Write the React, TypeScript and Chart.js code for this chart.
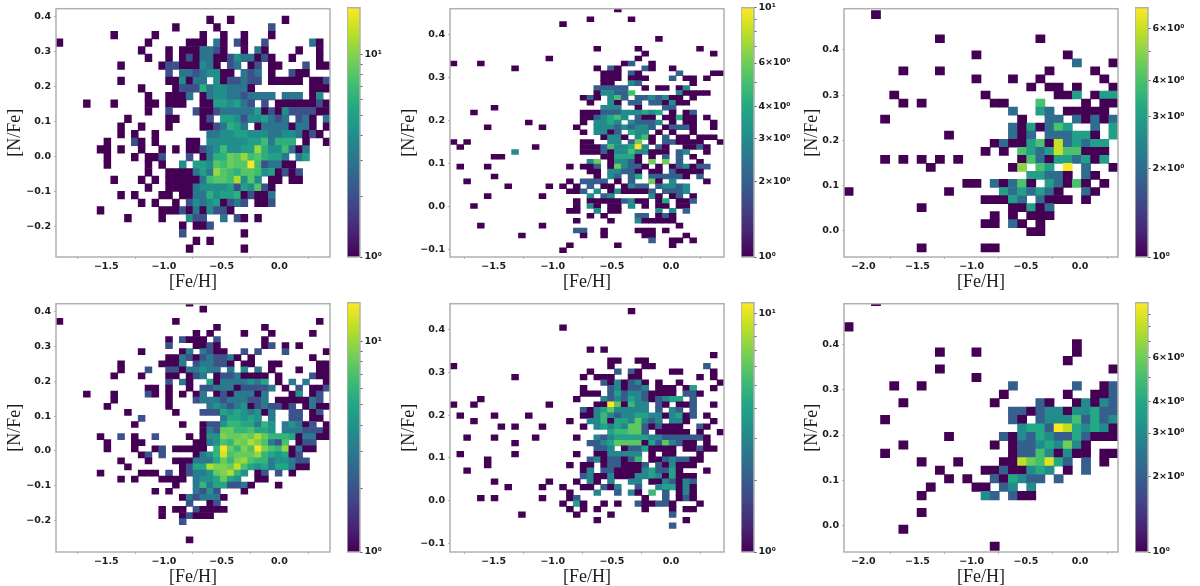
import React, { useEffect, useRef } from "react";
import { Chart, registerables } from "chart.js";

Chart.register(...registerables);

// Rows of each histogram: [row, "column[-column][:count] ..."], count defaults to 1.
type Rows = [number, string][];

const panel1Rows: Rows = [
  [0, "22 25 33"], [1, "17 23 31:2"], [2, "8 14 21 24 27 31"],
  [3, "0 13 19-21 23:3 24 26:2 27 30:2 37:3 38"],
  [4, "12 16 18-20 21-22:3 23:2 24 27 29:3 30 35 38"],
  [5, "13 16 18 19:2 20 21-22:3 23 24 25:2 26:4 27-28:3 29 30:2 31 34 38"],
  [6, "9 15 16-17:2 18-20 21:4 22:3 23 25:2 26:3 28 29:2 31-32 36:2 38-39"],
  [7, "16:2 18-19:3 20:2 21:3 22-23:4 24 25 27:3 28:2 29:3 31 34:2 35-36"],
  [8, "9 16-17 18:4 19 20-21:3 23:4 24 25-26:2 27:3 28-29:2 31-35 37-38 39:2"],
  [9, "12 17 18-20:2 21:6 22:3 23-24:4 25-27:3 28 37-39"],
  [10, "13 16-18 19:3 21 22:3 23-24:4 25-26:3 27:2 28:3 29-31:3 33-35:3 37 38:4"],
  [11, "4 8 13-14 16-18 21-22 23-24:5 25:4 26:5 27:3 28:2 30:2 32-36 37 38:2 39"],
  [12, "13 16:2 20:2 21-22 23:2 24-26:3 27-28:3 29:5 30 31:2 32 33:4 34-37:2 38-39"],
  [13, "10 16-17 21 22:2 24-25:5 26:4 27:2 28-29:4 30:5 31:3 32:2 33:3 35:2 36:3 37 39:3"],
  [14, "9 12 16 21-22 23:2 24:3 25:6 26:5 27:3 29 30:3 31-33:3 34 35-36:3 37 39"],
  [15, "9 11 14 22-23:3 24-25:4 26-27:5 28-30:4 31-32:3 33-34:4 35:3 36 37:2 38"],
  [16, "7 11:2 12 14 19-20 22-27:4 28-29:5 30:7 31:3 32-34:6 36 39"],
  [17, "6 7 9 12 15 17 19-20 21:2 22:3 23:4 24:7 25-26:4 27-28:5 29:11 30:6 31-32:4 33:7 34:3 35 36:3"],
  [18, "7 11 13-14 15:2 19:2 21 22:3 23-24:6 25:9 26:8 27:11 28:7 29:8 30:6 31-32:5 33:3 35:3 36:5"],
  [19, "7 13 15 18:4 20-21:5 22:4 23:8 24:7 25:9 26-27:8 28:17 29:7 30:2 31-32:3 33-34"],
  [20, "13 16-19 20:3 21:5 22:3 23:11 24:8 25:7 26:6 27-28:8 29:7 30:4 31:5 32 33:2 34 35:2"],
  [21, "8 12 14 16-20 21:3 22:7 23-24:8 25:7 26:12 27:4 28:8 29:4 31-32 34-35"],
  [22, "13 16-19 20:3 21-24:4 25:5 26:2 27:5 28:4 29:8 30:2 31"],
  [23, "9 11 15-16 18-19 20-21:3 22:6 23:4 24-25:5 26:6 27 28:2 29-30 31:3"],
  [24, "12 14 17 19:2 20:4 21:3 22:4 23:5 24 25:2 26:3 27:2 29-30 31:2"],
  [25, "6 15-17 18:2 19 20:3 21 22:4 23-24:2 25"],
  [26, "10 15 19:4 20-21:2 24:3 26:2 27 29"],
  [27, "18 20-21 22:2"], [28, "18:2 27"], [29, "20 22"], [30, "19 27"],
];

const panel2Rows: Rows = [
  [0, "24"], [2, "20 26"], [3, "16"], [6, "30"], [8, "21 27 36"], [9, "28 38"], [10, "14 27"],
  [11, "0 4 25 26:2 29"],
  [12, "9 21 23:2 24 28:2 29 32"],
  [13, "22-24 26:2 27 33:2 38-39"],
  [14, "22-24 26-28 32:2 34-35 37"],
  [15, "22-23 26:3 27:2 35"],
  [16, "21-22:2 23-25:2 28 30-31 33 34:3"],
  [17, "21 22-23:3 24-25:2 26:5 33:3 34-37"],
  [18, "19 20:2 21 23:3 24:5 25:2 27-28:2 29:3 30:2 31:3 32-33 35"],
  [19, "20 23:3 24 26-27:2 29-30:2 31 32:3 33-34"],
  [20, "6 22-24:3 27 31-32:2"],
  [21, "3 19-21 22-24:2 25-27:3 28:4 29:3 30:4 32 34 35:2"],
  [22, "19-20 21:2 22:3 23:4 24:5 25:3 27:2 28 29 31-32 33:4 34-35 37"],
  [23, "11 19 21-22:3 23:4 24:3 26:3 27-29:2 30:3 32 34-35 38"],
  [24, "5 13 18 21-23:3 24:2 25:3 26:2 27-28:3 29:2 31 32-34:2 35 38"],
  [25, "19 21-22:3 23 24:2 26:4 27-28:3 30 32 35"],
  [26, "22 23-24:3 25 27:3 28:5 29 31:2 33-34 36-37 38"],
  [27, "0 2 19-20 23-24:3 26:2 27:6 29 31-32:2 33-36 39"],
  [28, "1 12 19-21 22:2 23:5 24-25:3 26:4 27:10 28:3 30:2 31 34-35 36:2 37"],
  [29, "9:3 19-21 22:2 23 24-25:3 26:5 27-28:3 29-31 33:2 34:3 37"],
  [30, "6-7 22-23 24-26:4 27 29 31:2 33:2 35"],
  [31, "20:3 21:6 23 24-25:3 26:2 27 29:6 31:6 33:2 36"],
  [32, "1 5 17 19-20 21:2 23 24:6 25:3 26-27:2 28 30 32 33:2 34:3 35 36-37:2"],
  [33, "20-21 23-24:3 25-26:2 27 29-30 32:2 33-36"],
  [34, "6 21 23:3 24:2 26:2 27:4 29-33:2 34 36:2"],
  [35, "2 17 19-22:2 24 26:2 29:6 30 32:3 37"],
  [36, "8 14 16 18 20:2 22-23 25 26:3 27-28:2 30:2 31-32:3 33:2 34:3"],
  [37, "17-18 19:2 21:3 23 24:3 25-28 29:2 31-33:2 34:3"],
  [38, "5 13 20:3 22:2 23:3 29:3 30 32 33:2 35"],
  [39, "18 20-24 25:2 26:3 27-28 30 31:4 33-34 35:2"],
  [40, "3 18 20:3 21 23-24 26:3 28 30-31 33-34"],
  [41, "17-18 21:3 23-24 30:3 32:3 34:2"],
  [42, "20 22 27-28:2 30 31:2 32"],
  [43, "18 23 27:3 28-32"],
  [44, "4 13 33"],
  [45, "18-19:2 22 27-29 31"],
  [46, "10 19 22 28-29 34"],
  [47, "29:2 32-33 35"],
  [48, "17 24 32"], [49, "16"],
];

const panel3Rows: Rows = [
  [0, "3"], [3, "10 21"], [5, "14 24"], [6, "25:2 29"], [7, "6 10 22 27"], [8, "14 18 21 28"],
  [9, "20 22-23 25 29"],
  [10, "5 15 23-24 25:3 27 28-29:3"],
  [11, "6 8 16-17 21:4 26 28-29"],
  [12, "18:2 21:3 22:2 24-28"],
  [13, "4 19 22-23:2 25:2 26 27:2 28 29:2"],
  [14, "18:2 19 20:3 21 22:2 23:4 24:3 27:2 29:3"],
  [15, "11 18:2 19 20:2 22-24:2 25-26:3 27 29:3"],
  [16, "16 17:2 18-19 20:3 21:4 22 23:6 24:2 25:3 26:2 27-28:3"],
  [17, "15 17 19:4 20:3 21:2 22:3 23:6 24:4 25:4 26-28"],
  [18, "4 6 8 10 12 19 20:4 21:2 22 23-24:3 25:2 26:3 27 28:3"],
  [19, "9 18 19:5 21:4 22:3 24:7 26:2 29"],
  [20, "20-21:3 22-23:2 24 26:2 27"],
  [21, "13-14 16:2 17 18:2 19:4 20 22:3 23:2 24 25:4 26 28"],
  [22, "0 11 17:3 18:2 19:3 20:2 21:3 22:2 23 26:2 27"],
  [23, "15-17 18:3 19:2 21:2 22-24 26"],
  [24, "8 18-19 20:3 21 22:2"],
  [25, "16 18 20-22"],
  [26, "15-16 18:2 19 21"],
  [27, "20-21"],
  [29, "8 15-16"],
];

const panel4Rows: Rows = [
  [0, "19"], [1, "21"], [3, "0 17 38"], [4, "23 30"], [5, "20 22 27 31 37"],
  [6, "16 18:2 19-21 23:2 30"],
  [7, "16:2 20-21 22:2 23 30 31:2 33 35"],
  [8, "12 18 19:3 21:3 22:2 23-24 27:2 29:2 33:2 39"],
  [9, "16-17 18:3 19:2 20 21:2 22:3 23-24:2 25:3 26 28 37"],
  [10, "9 15-17 18:3 20:2 21-22:3 23-24:2 25 27-28 31-32 38-39"],
  [11, "9 13:2 16-17:2 18 19-20:3 21:4 22-23:3 25:3 27:4 29:3 31 35 38-39"],
  [12, "8 12 16-17 19 20:2 21:3 23 24-25:2 26:3 27-30 32 37:2 38-39"],
  [13, "16:2 18:3 19 22:5 23 24-27:3 28:4 29:3 30:5 32 34:3 36:3 39"],
  [14, "13-14 16 19 21-22:2 23-25:3 26 27-28:2 29-30:2 31:3 33 35:2 37-38 39:2"],
  [15, "4 8 13:2 14 16 18 20 21:3 23 24:2 25 26-28:3 29 30:3 34 35:4 37 38:2"],
  [16, "8 16 20:2 21-23:3 24:2 25-27:3 28-29:2 30:3 32-36 37:3 38:2"],
  [17, "7 16 22:3 23:4 24:3 25:2 26:3 27:4 28 29:2 30:3 31-32:2 33 34:2 36 37:3 38-39"],
  [18, "10 17 21-23:2 24:5 25:4 26:5 27:4 28:3 29:4 30 31:3 34-35:2 37 38:2"],
  [19, "12:2 24:3 25-26:5 27:4 28:5 29:4 31:3 34-35:2 37-38"],
  [20, "11 18 21 22-23:2 24:4 25-26:6 27-28:5 29:3 30:6 31:4 33:3 34:4 35:3 36 37:2 39"],
  [21, "21 22:3 23:2 24-25:8 26-27:6 28:7 29-30:5 31:4 33-35:3 36-38:2 39"],
  [22, "6 9:2 11 14:2 19 21 22-23:4 24:9 25-26:8 27:9 28:8 29:11 30:8 31-33:6 34:5 35 36-37:3 38-39"],
  [23, "7 11-12 20-21 22:3 23:4 24:7 25:6 26:9 27:8 28:11 29:9 30:7 31:3 32:2 33:7 35 36-37:2"],
  [24, "7 11 14 15:2 17-21 23:6 24:15 25:8 26:6 27:9 28:7 29:15 30:9 31:7 32:6 33:10 34 35:3 36-37"],
  [25, "12 13:2 15:2 20 21:3 22:4 23:6 24:13 25:7 26-28:8 29:10 30:6 31:5 32:4 33:5 34 35:2"],
  [26, "9 13 17-19 20-22:3 23:5 24:8 25:6 26:9 27:10 28:7 29-30:6 31:3 32-33:4 34:3 35-36:2"],
  [27, "10 18 19:2 20-21:5 22:11 23-24:9 25:8 26:12 27:7 28:5 29:4 30:5 31:3 32-33:5 34:3 35-36"],
  [28, "6 12-14 16:2 18 19:2 20-21:3 22:4 23:8 24:9 25:11 26:6 27:4 29 30:2 32:2 34"],
  [29, "9 11 15-18 20:3 21-22:4 23:5 24:8 25:5 26:4 29-30"],
  [30, "17 20:3 21:6 22:3 23-24:5 25-26:2 27:3 28 32"],
  [31, "14 16 20:3 21:2 22:4 23:2 27"],
  [32, "18 19:3 20:2 21-23:3 24"],
  [33, "19:2 22 23:2"],
  [34, "15 17-18 20:2 21-24"],
  [35, "15 18 19:2 20-22"],
  [36, "18:2"], [39, "19"],
];

const panel5Rows: Rows = [
  [0, "26"], [3, "16"], [7, "20 22"], [8, "38"], [9, "23-24 27-28"],
  [10, "0 23 28-29 37:2"],
  [11, "20 24:2 26:2 27 32-33 38"],
  [12, "9 19 21-23 26-27 36 38"],
  [13, "22:2 23 24:3 25 26:2 27:3 28 30 33 39"],
  [14, "19 23:2 24:3 25 26-27:2 28:3 30-32 34 35:4 38"],
  [15, "19-21 23:2 24:4 25:2 26-27:3 28:2 29-32 34-35:2 36"],
  [16, "4 18 22:3 23:2 24:3 25:2 26:4 27:3 28:2 29 30:2 31:3 32-33:4 35:2"],
  [17, "0 3 14 21-22 23:11 24:6 25 26:5 27-28:3 30:2 31 33-34 35:2 38"],
  [18, "19:2 20 21:3 22:4 23:6 24-27:3 28:3 30:2 32:3 33:2 35:2"],
  [19, "1 6 11 19-20 21:3 22:5 23:3 24:2 25-26:3 27-28:4 29-30:3 31 32:3 33:4 34 35:2 37"],
  [20, "3 17 20-21:3 22:5 23 24-25:4 26:3 27:6 28:3 29:2 30:3 32-33:3 34 38"],
  [21, "7 9 13 19 21:3 22:4 23:3 24:4 25:3 26-27:6 28:2 29 30:2 31-33 36:2 37"],
  [22, "23:4 24-25:5 26-27:6 28:2 30-34 36 39"],
  [23, "2 6 12 18 21:3 22:2 23:3 24-28:4 29-30:3 31-36:2 37"],
  [24, "9 20-21:2 22:3 23:4 24-27:6 28 29:4 30:2 31:6 32:3 33:2 34-35 37"],
  [25, "21-22:2 23:3 25 26-27:2 28:4 29-32 34-35 36:2 37-38"],
  [26, "1 9 18 21-22 23-27:3 29 31-32 36"],
  [27, "5 20:2 21:3 22 23-24:2 25 26:2 27:5 29-30 31:2 32:3 33-34:2 35-36"],
  [28, "5 17 19 20 22 23-24:2 25-27 28:2 30:2 31 32:3 33-35"],
  [29, "2 19 20:3 22-23:2 24-27 28:3 29:4 30-31:2 32:4 33 37"],
  [30, "19:2 20:3 21-22 23:3 24-26 27-28:3 29:4 30:3 31 32:4 33-35"],
  [31, "6 14 18 20:3 21 23:3 26-27:3 29-30 31:3 32:2 33 34:3 35:2"],
  [32, "8 13 16 19-20 22:2 23 24:3 27:2 30:3 31-32:4 33 34:3 35"],
  [33, "17 21:3 24:2 26:3 27 29:5 31:2 33 34:3 35"],
  [34, "4 6 13 17 18:2 28 31:2 33 34:2 35"],
  [35, "16 18:4 19 22 24 27:2 28-29 30-31:2 32 36"],
  [36, "17 19 21 28 32 34-35"],
  [37, "10 18 23 32:2"],
  [38, "21 34"],
  [39, "32:2"],
];

const panel6Rows: Rows = [
  [0, "3"], [3, "0"], [5, "25"], [6, "10 14 25"], [7, "24"], [8, "10 29"], [9, "14"],
  [10, "5 8 18:2 25:2 28 29:2"],
  [11, "17 24 27-28 29:2"],
  [12, "6 16 21:2 22 25 26:3 27 28:3 29:2"],
  [13, "18-19:2 20 21:2 22-23:3 24 25-26:3 27:4 28-29:2"],
  [14, "4 18:2 19 21:2 22-24:3 25:5 26:2 27:4 28:2 29:3"],
  [15, "19:3 20:4 21:4 22:2 23:10 24:8 25:4 26:3 27:4 28:3 29"],
  [16, "11 17:2 18 19:3 20:2 21:4 22:3 23-24:2 25:4 26:2 27-29"],
  [17, "6 16 18 19-20:2 21:3 22:4 23:3 24:6 25:3 26"],
  [18, "4 18 19-20:2 21:5 22:3 23 24:3 25-26 28-29"],
  [19, "8 12 17-18 19:8 20:6 21:5 22:9 23:4 24:2 26:2 28"],
  [20, "10 15-16 17:2 18-19 20:3 21:4 22:3 24 26:2"],
  [21, "11 13 16:2 17 18:4 19:3 20-21:2 23:2"],
  [22, "9 14-15 17:2 18:3 20:3"],
  [23, "8 15:3 16:2 18:2 19-20"],
  [25, "8"], [27, "6"], [29, "16"],
];

// Per-panel axis ranges, bins and ticks
const panel1Ticks = { x: [-1.5, -1, -0.5, 0], y: [-0.2, -0.1, 0, 0.1, 0.2, 0.3, 0.4] };
const panel2Ticks = { x: [-1.5, -1, -0.5, 0], y: [-0.1, 0, 0.1, 0.2, 0.3, 0.4] };
const panel3Ticks = { x: [-2, -1.5, -1, -0.5, 0], y: [0, 0.1, 0.2, 0.3, 0.4] };

const cb1 = { max: 17.1, major: [1, 10], minor: [2, 3, 4, 5, 6, 7, 8, 9] };
const cb2 = { max: 10, major: [1, 2, 3, 4, 6, 10], minor: [5, 7, 8, 9] };
const cb3 = { max: 7.06, major: [1, 2, 3, 4, 6], minor: [5] };
const cb4 = { max: 15.3, major: [1, 10], minor: [2, 3, 4, 5, 6, 7, 8, 9] };
const cb5 = { max: 11.1, major: [1, 10], minor: [2, 3, 4, 5, 6, 7, 8, 9] };
const cb6 = { max: 9.99, major: [1, 2, 3, 4, 6], minor: [5, 7, 8, 9] };

const cols1 = 40;
const cols3 = 30;

const panels = [
  { rows: panel1Rows, cols: cols1, xr: [-1.936, 0.439], yr: [-0.287, 0.4215], r0: 0.3897, dy: 0.02175, ticks: panel1Ticks, cb: cb1, left: 56, top: 4, cbLeft: 347, titlePad: 2 },
  { rows: panel2Rows, cols: cols1, xr: [-1.869, 0.4475], yr: [-0.118, 0.4603], r0: 0.4588, dy: 0.01145, ticks: panel2Ticks, cb: cb2, left: 450, top: 4, cbLeft: 741, titlePad: 2 },
  { rows: panel3Rows, cols: cols3, xr: [-2.178, 0.35], yr: [-0.0588, 0.4915], r0: 0.4784, dy: 0.01782, ticks: panel3Ticks, cb: cb3, left: 844, top: 4, cbLeft: 1135, titlePad: 11 },
  { rows: panel4Rows, cols: cols1, xr: [-1.936, 0.439], yr: [-0.29, 0.4225], r0: 0.4242, dy: 0.017416, ticks: panel1Ticks, cb: cb4, left: 56, top: 299, cbLeft: 347, titlePad: 2 },
  { rows: panel5Rows, cols: cols1, xr: [-1.869, 0.4475], yr: [-0.12, 0.461], r0: 0.4435, dy: 0.012863, ticks: panel2Ticks, cb: cb5, left: 450, top: 299, cbLeft: 741, titlePad: 2 },
  { rows: panel6Rows, cols: cols3, xr: [-2.178, 0.35], yr: [-0.0593, 0.491], r0: 0.4958, dy: 0.018698, ticks: panel3Ticks, cb: cb6, left: 844, top: 299, cbLeft: 1135, titlePad: 11 },
];

const viridis = ["#440154", "#482475", "#414487", "#355f8d", "#2a788e", "#21918c", "#22a884", "#44bf70", "#7ad151", "#bddf26", "#fde725"];

const PLOT_W = 274;
const PLOT_H = 253;
const CB_W = 13;
const AXIS_W = 54;
const AXIS_H = 36;
const PAD_T = 4;
const PAD_R = 6;
const SPINE = "#b0b0b0";
const TICK_FONT = { family: "'DejaVu Sans'", size: 9.5, weight: "bold" as const };
const TITLE_FONT = { family: "'Liberation Serif'", size: 18 };
const TEXT = "#1c1c1c";

function hexToRgb(h: string) {
  return [1, 3, 5].map((i) => parseInt(h.slice(i, i + 2), 16));
}
function colorAt(t: number) {
  const p = Math.max(0, Math.min(1, t)) * (viridis.length - 1);
  const i = Math.min(viridis.length - 2, Math.floor(p));
  const a = hexToRgb(viridis[i]);
  const b = hexToRgb(viridis[i + 1]);
  const f = p - i;
  return `rgb(${a.map((v, k) => Math.round(v + (b[k] - v) * f)).join(",")})`;
}

function parseRows(rows: Rows) {
  const cells: { c: number; r: number; v: number }[] = [];
  rows.forEach(([r, s]) => {
    s.split(" ").forEach((tok) => {
      const [range, val] = tok.split(":");
      const [a, b] = range.split("-").map(Number);
      for (let c = a; c <= (b ?? a); c++) cells.push({ c, r, v: val ? Number(val) : 1 });
    });
  });
  return cells;
}

const frame = {
  id: "frame",
  afterDatasetsDraw(chart: any) {
    const { ctx, chartArea: a } = chart;
    ctx.save();
    ctx.strokeStyle = SPINE;
    ctx.lineWidth = 1.5;
    ctx.strokeRect(a.left, a.top, a.right - a.left, a.bottom - a.top);
    ctx.restore();
  },
};

const fmt = (s: string) => s.replace("-", "\u2212");

function mainConfig(p: (typeof panels)[number]) {
  const dx = (p.xr[1] - p.xr[0]) / p.cols;
  const cells = parseRows(p.rows);
  const data = cells.map((k) => {
    const yc = p.r0 - k.r * p.dy;
    return { x: p.xr[0] + (k.c + 0.5) * dx, y: [yc - p.dy / 2, yc + p.dy / 2] };
  });
  const colors = cells.map((k) => colorAt(Math.log(k.v) / Math.log(p.cb.max)));
  const grid = { drawOnChartArea: false, drawTicks: true, tickLength: 2, tickColor: SPINE, tickWidth: 1 };
  return {
    type: "bar",
    data: { datasets: [{ data, backgroundColor: colors, borderWidth: 0, barThickness: PLOT_W / p.cols }] },
    options: {
      animation: false,
      responsive: false,
      devicePixelRatio: 1,
      layout: { padding: { top: PAD_T, right: PAD_R, left: 0, bottom: 0 } },
      plugins: { legend: { display: false }, tooltip: { enabled: false } },
      scales: {
        x: {
          type: "linear",
          min: p.xr[0],
          max: p.xr[1],
          offset: false,
          grid,
          border: { display: false },
          afterBuildTicks(s: any) { s.ticks = p.ticks.x.map((value) => ({ value })); },
          afterFit(s: any) { s.height = AXIS_H; },
          ticks: {
            autoSkip: false, maxRotation: 0, padding: 2, color: TEXT, font: TICK_FONT,
            callback: (v: number) => fmt(v.toFixed(1)),
          },
          title: { display: true, text: "[Fe/H]", color: TEXT, font: TITLE_FONT, padding: { top: 0, bottom: 0 } },
        },
        y: {
          type: "linear",
          min: p.yr[0],
          max: p.yr[1],
          grid,
          border: { display: false },
          afterBuildTicks(s: any) { s.ticks = p.ticks.y.map((value) => ({ value })); },
          afterFit(s: any) { s.width = AXIS_W; },
          ticks: {
            autoSkip: false, padding: 3, color: TEXT, font: TICK_FONT,
            callback: (v: number) => fmt(v.toFixed(1)),
          },
          title: { display: true, text: "[N/Fe]", color: TEXT, font: TITLE_FONT, padding: { top: p.titlePad, bottom: p.titlePad } },
        },
      },
    },
    plugins: [frame],
  } as any;
}

function cbLabel(v: number, decades: boolean) {
  if (v === 1) return "10\u2070";
  if (v === 10) return "10\u00b9";
  return decades ? "" : `${v}\u00d710\u2070`;
}

function cbConfig(p: (typeof panels)[number]) {
  const cb = p.cb;
  return {
    type: "bar",
    data: {
      labels: [""],
      datasets: [{
        data: [[1, cb.max]],
        barPercentage: 1,
        categoryPercentage: 1,
        borderWidth: 0,
        backgroundColor: (ctx: any) => {
          const a = ctx.chart.chartArea;
          if (!a) return viridis[0];
          const g = ctx.chart.ctx.createLinearGradient(0, a.bottom, 0, a.top);
          viridis.forEach((c, i) => g.addColorStop(i / (viridis.length - 1), c));
          return g;
        },
      }],
    },
    options: {
      animation: false,
      responsive: false,
      devicePixelRatio: 1,
      layout: { padding: { top: PAD_T, right: 0, left: 0, bottom: AXIS_H } },
      plugins: { legend: { display: false }, tooltip: { enabled: false } },
      scales: {
        x: { display: false },
        y: {
          type: "logarithmic",
          position: "right",
          min: 1,
          max: cb.max,
          grid: { drawOnChartArea: false, drawTicks: true, tickLength: 2.5, tickColor: "#555555", tickWidth: 1 },
          border: { display: false },
          afterBuildTicks(s: any) {
            s.ticks = [...cb.major, ...cb.minor].sort((a, b) => a - b).map((value) => ({ value }));
          },
          afterFit(s: any) { s.width = 56; },
          ticks: {
            autoSkip: false, padding: 2, color: TEXT, font: TICK_FONT,
            callback: (v: number) => (cb.major.includes(v) ? cbLabel(v, p.cb.minor.length === 8) : ""),
          },
        },
      },
    },
    plugins: [frame],
  } as any;
}

export default function App() {
  const refs = useRef<(HTMLCanvasElement | null)[]>([]);
  useEffect(() => {
    const charts = panels.flatMap((p, i) => [
      new Chart(refs.current[i * 2]!, mainConfig(p)),
      new Chart(refs.current[i * 2 + 1]!, cbConfig(p)),
    ]);
    return () => charts.forEach((c) => c.destroy());
  }, []);
  return (
    <div style={{ position: "absolute", left: 0, top: 0, width: 1200, height: 586, overflow: "hidden", background: "#fff", filter: "blur(0.4px)" }}>
      {panels.map((p, i) => (
        <React.Fragment key={i}>
          <canvas
            ref={(el) => { refs.current[i * 2] = el; }}
            width={AXIS_W + PLOT_W + PAD_R}
            height={PAD_T + PLOT_H + AXIS_H}
            style={{ position: "absolute", left: p.left - AXIS_W, top: p.top - PAD_T, width: AXIS_W + PLOT_W + PAD_R, height: PAD_T + PLOT_H + AXIS_H }}
          />
          <canvas
            ref={(el) => { refs.current[i * 2 + 1] = el; }}
            width={CB_W + 56}
            height={PAD_T + PLOT_H + AXIS_H}
            style={{ position: "absolute", left: p.cbLeft, top: p.top - PAD_T, width: CB_W + 56, height: PAD_T + PLOT_H + AXIS_H }}
          />
        </React.Fragment>
      ))}
    </div>
  );
}
